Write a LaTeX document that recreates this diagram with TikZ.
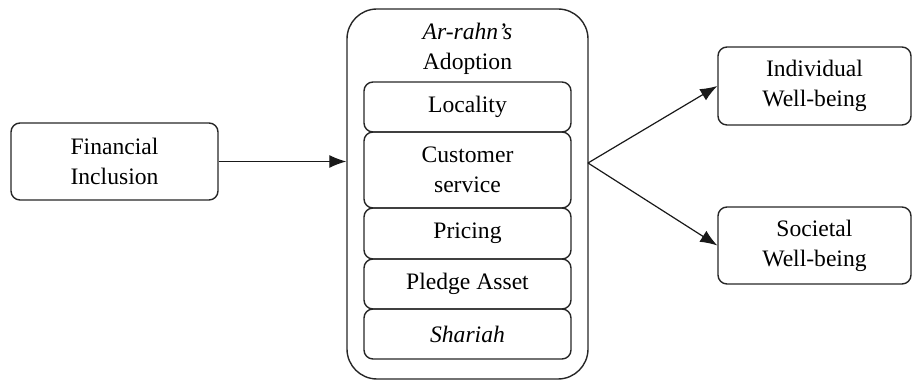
\documentclass[tikz,border=0pt]{standalone}
\usepackage{fontspec}
\setmainfont{Liberation Serif}
\usetikzlibrary{arrows.meta}

\tikzset{
  caja/.style={draw=black!85, line width=0.7pt, rounded corners=4.5pt,
    align=center, inner sep=0pt, font=\fontsize{11.8}{15}\selectfont},
  flecha/.style={draw=black!90, line width=0.6pt, -{Latex[length=8.5pt,width=6.5pt]}}
}

\begin{document}
\begin{tikzpicture}[x=0.5pt, y=-0.5pt]
      \useasboundingbox (0,0) rectangle (912,383);

      % Caja de entrada
      \node[caja, minimum width=103.5pt, minimum height=38.5pt] (fin) at (114.5,161.5)
        {Financial\\Inclusion};

      % Contenedor de la adopcion
      \node[caja, rounded corners=15pt, minimum width=120.5pt, minimum height=185pt] (adopt) at (467.5,194) {};
      \node[caja, draw=none] (title) at (467.5,49) {\textit{Ar-rahn’s}\\Adoption};

      % Factores dentro del contenedor
      \node[caja, minimum width=103.5pt, minimum height=25pt] (loc) at (467.5,107) {Locality};
      \node[caja, minimum width=103.5pt, minimum height=38pt] (cust) at (467.5,170) {Customer\\service};
      \node[caja, minimum width=103.5pt, minimum height=25.5pt] (price) at (467.5,233.5) {Pricing};
      \node[caja, minimum width=103.5pt, minimum height=25pt] (pledge) at (467.5,284) {Pledge Asset};
      \node[caja, minimum width=103.5pt, minimum height=25pt] (shariah) at (467.5,334) {\textit{Shariah}};

      % Resultados
      \node[caja, minimum width=96.5pt, minimum height=39pt] (ind) at (814.5,86) {Individual\\Well-being};
      \node[caja, minimum width=96.5pt, minimum height=38.5pt] (soc) at (814.5,245.5) {Societal\\Well-being};

      % Flechas
      \coordinate (split) at (588,163);
      \draw[flecha] (fin.east) -- (fin.east -| adopt.west);
      \draw[flecha] (split) -- (ind.west);
      \draw[flecha] (split) -- (soc.west);
\end{tikzpicture}
\end{document}
